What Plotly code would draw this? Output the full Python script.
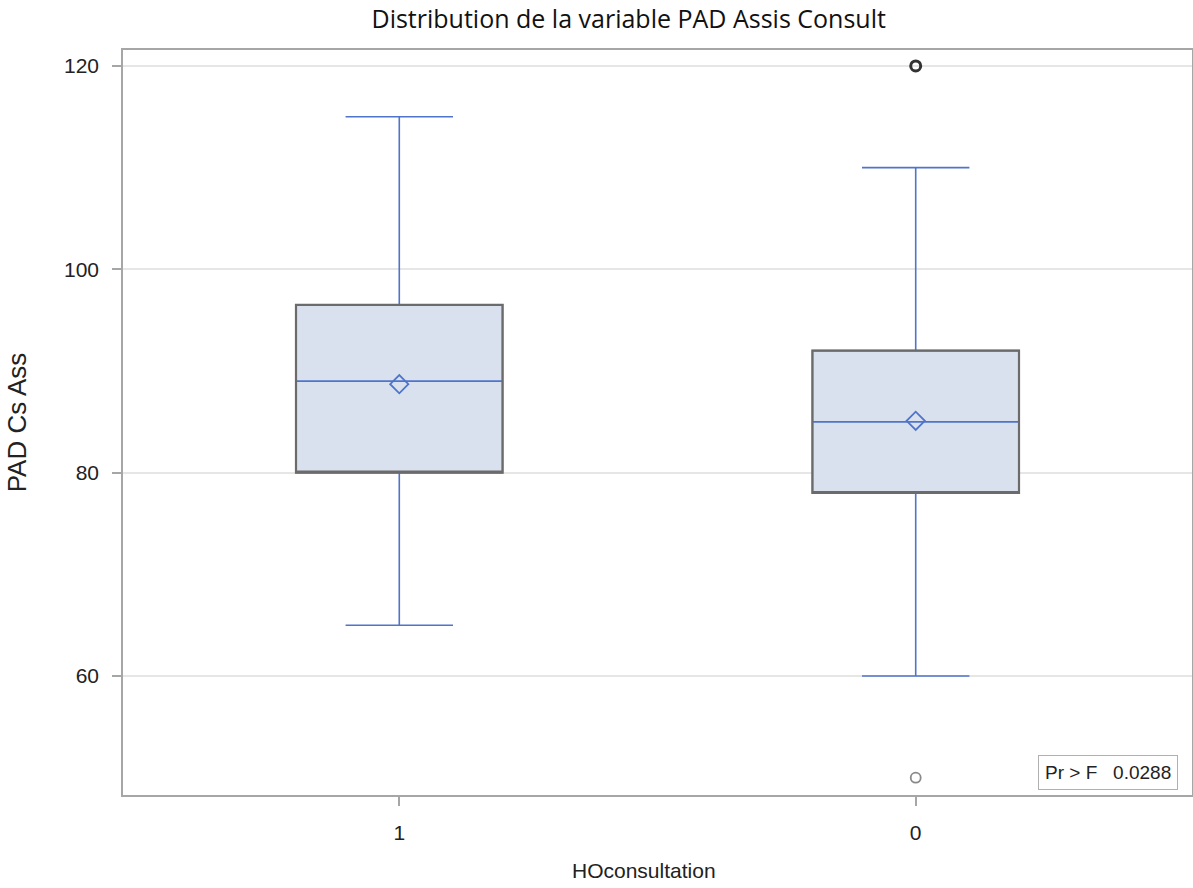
import plotly.graph_objects as go

categories = ["1", "0"]
q1 = [80, 78]
median = [89, 85]
q3 = [96.5, 92]
lower_whisker = [65, 60]
upper_whisker = [115, 110]
means = [88.7, 85.1]
outlier_cat_hi = ["0"]
outlier_hi = [120]
outlier_cat_lo = ["0"]
outlier_lo = [50]
p_value_label = "Pr > F"
p_value = "0.0288"

blue = "#4f74c9"
fill = "rgba(216,225,237,1)"
grey_edge = "#6b6b6b"

fig = go.Figure()
fig.add_trace(go.Box(
    x=categories, q1=q1, median=median, q3=q3,
    lowerfence=lower_whisker, upperfence=upper_whisker,
    width=0.4, whiskerwidth=0.52,
    line=dict(color=blue, width=1.6), fillcolor=fill,
    boxpoints=False, hoverinfo="skip", showlegend=False,
))
fig.add_trace(go.Box(
    x=categories, q1=q1, median=q1, q3=q3,
    lowerfence=q1, upperfence=q3,
    width=0.4, whiskerwidth=0,
    line=dict(color=grey_edge, width=2.2), fillcolor="rgba(0,0,0,0)",
    boxpoints=False, hoverinfo="skip", showlegend=False,
))
fig.add_trace(go.Scatter(
    x=categories, y=means, mode="markers",
    marker=dict(symbol="diamond-open", size=14, color=blue, line=dict(width=1.8, color=blue)),
    showlegend=False, hoverinfo="skip",
))
fig.add_trace(go.Scatter(
    x=outlier_cat_hi, y=outlier_hi, mode="markers",
    marker=dict(symbol="circle-open", size=10, color="#333333", line=dict(width=3, color="#333333")),
    showlegend=False, hoverinfo="skip",
))
fig.add_trace(go.Scatter(
    x=outlier_cat_lo, y=outlier_lo, mode="markers",
    marker=dict(symbol="circle-open", size=10, color="#8a8a8a", line=dict(width=1.8, color="#8a8a8a")),
    showlegend=False, hoverinfo="skip",
))

fig.add_annotation(
    xref="paper", yref="paper", x=0.987, y=0.007, xanchor="right", yanchor="bottom",
    text=f"{p_value_label}&nbsp;&nbsp;&nbsp;{p_value}", showarrow=False,
    font=dict(family="Liberation Sans, Arial", size=19, color="#222222"),
    bordercolor="#b0b0b0", borderwidth=1, borderpad=6, bgcolor="white",
)
# x-axis title
fig.add_annotation(
    xref="paper", yref="paper", x=(644 - 123) / 1069, y=-(870 - 795) / 745,
    xanchor="center", yanchor="middle", showarrow=False,
    text="HOconsultation", font=dict(family="Liberation Sans, Arial", size=21, color="#222222"),
)

fig.update_layout(
    width=1193, height=888,
    margin=dict(l=123, r=1, t=50, b=93, autoexpand=False),
    paper_bgcolor="white", plot_bgcolor="white",
    boxmode="overlay",
    title=dict(text="Distribution de la variable PAD Assis Consult",
               x=0.527, xanchor="center", y=1 - 19 / 888, yanchor="middle",
               font=dict(family="Open Sans", size=25, color="#111111")),
    font=dict(family="Liberation Sans, Arial", color="#222222"),
)
fig.update_xaxes(
    type="category", categoryorder="array", categoryarray=categories,
    range=[-0.535, 1.535],
    showline=True, mirror=True, linecolor="#a6a6a6", linewidth=1.5,
    ticks="outside", ticklen=9, tickcolor="#a6a6a6", tickwidth=1.5,
    ticklabelstandoff=9,
    tickfont=dict(size=21, color="#222222"),
    showgrid=False, zeroline=False,
)
fig.update_yaxes(
    range=[48.3, 121.57], tickvals=[60, 80, 100, 120],
    showline=True, mirror=True, linecolor="#a6a6a6", linewidth=1.5,
    ticks="outside", ticklen=9, tickcolor="#a6a6a6", tickwidth=1.5,
    ticklabelstandoff=9,
    tickfont=dict(size=21, color="#222222"),
    title=dict(text="PAD Cs Ass", font=dict(size=26, color="#222222"), standoff=30),
    showgrid=True, gridcolor="#e6e6e6", gridwidth=1.5, zeroline=False,
)

fig.write_html("out.html", config={"displayModeBar": False},
               post_script="document.body.style.margin='0';")
